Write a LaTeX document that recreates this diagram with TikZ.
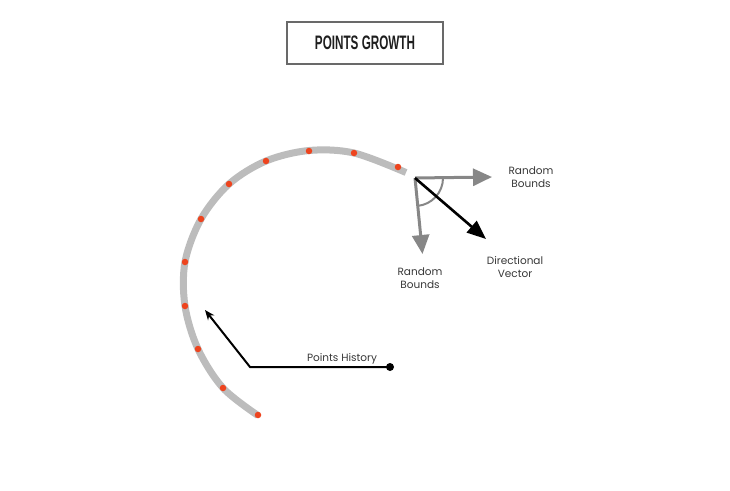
\documentclass[tikz,border=0pt]{standalone}
\usepackage{fontspec}
\setmainfont{Poppins}
\newfontfamily\titlefont[FakeStretch=0.6]{Liberation Sans}
\usetikzlibrary{arrows.meta}
\definecolor{trackgray}{RGB}{188,188,188}
\definecolor{dotred}{RGB}{238,68,30}
\definecolor{vecgray}{RGB}{135,135,135}
\definecolor{labelgray}{RGB}{55,55,55}
\definecolor{boxgray}{RGB}{105,105,105}
\tikzset{
  reddot/.style={circle,fill=dotred,inner sep=0pt,minimum size=6.5pt},
  lbl/.style={font=\fontsize{10.5}{13.5}\selectfont,text=labelgray,align=center,inner sep=0pt},
  grayvec/.style={draw=vecgray,line width=3pt,-{Triangle[length=19pt,width=17pt]}},
  blackvec/.style={draw=black,line width=2.6pt,-{Triangle[length=19pt,width=15pt]}},
}
\begin{document}
\begin{tikzpicture}[x=1pt,y=-1pt]
\useasboundingbox (0,0) rectangle (730,490);
% title
\node[draw=boxgray,line width=2.2pt,minimum width=156pt,minimum height=42pt,inner sep=0pt,
  font=\titlefont\bfseries\fontsize{19.5}{20}\selectfont,text={rgb,255:red,30;green,30;blue,30}] (title) at (365,43) {POINTS GROWTH};
% track
\draw[trackgray,line width=7pt] plot[smooth,tension=0.55] coordinates {(406,172.5) (354,153) (309,150.5) (266,161) (229,184) (201,219) (185,262) (185,306) (198,349) (223,388) (258,415.5)};
% red dots
\foreach \n/\p in {d1/{(398,167)},d2/{(354,153)},d3/{(309,151)},d4/{(266,161)},d5/{(229,184)},d6/{(201,219)},d7/{(185,262)},d8/{(185,306)},d9/{(198,349)},d10/{(223,388)},d11/{(258,415)}}
  \node[reddot] (\n) at \p {};
% vectors
\coordinate (vo) at (415,178);
\coordinate (rtip) at (492,177);
\coordinate (dtip) at (422.5,254);
\coordinate (btip) at (486,239);
\draw[vecgray,line width=2pt] ([shift={(0:28)}]vo) arc[start angle=0,end angle=84.6,radius=28];
\draw[grayvec] (vo) -- (rtip);
\draw[grayvec] (vo) -- (dtip);
\draw[blackvec] (vo) -- (btip);
\node[lbl] (rb1) at (531,177) {Random\\Bounds};
\node[lbl] (rb2) at (420,278) {Random\\Bounds};
\node[lbl] (dv) at (515,267) {Directional\\Vector};
% points history
\node[circle,fill=black,inner sep=0pt,minimum size=8pt] (phdot) at (390,367) {};
\coordinate (phbend) at (250,367);
\coordinate (phtip) at (205,310);
\draw[line width=2pt,-{Stealth[length=10pt,width=8pt]}] (phdot.center) -- (phbend) -- (phtip);
\node[lbl,anchor=base] (ph) at (342,361) {Points History};
\end{tikzpicture}
\end{document}
